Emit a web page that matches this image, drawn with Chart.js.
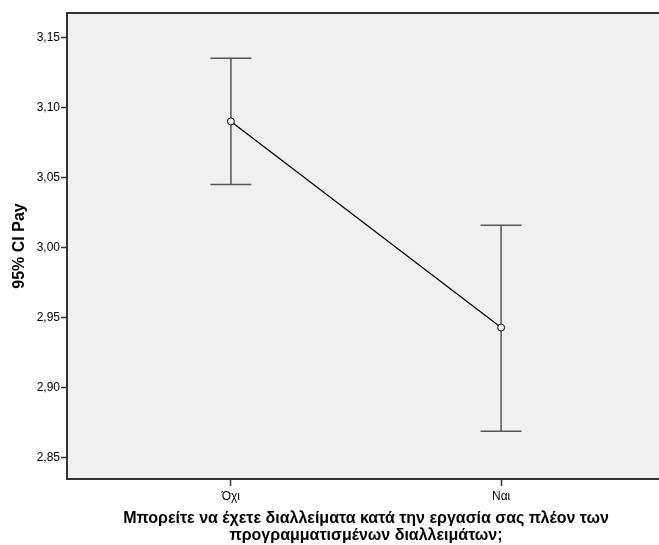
<!DOCTYPE html>
<html>
<head>
<meta charset="utf-8">
<script src="https://cdn.jsdelivr.net/npm/chart.js@4/dist/chart.umd.min.js"></script>
<style>
  html, body { margin: 0; padding: 0; background: #fff; overflow: hidden; }
  #wrap { width: 670px; height: 545px; }
</style>
</head>
<body>
<div id="wrap"><canvas id="chartCanvas" width="670" height="545"></canvas></div>
<script>
// error bar data
const categories = ["Όχι", "Ναι"];
const means = [3.090, 2.943];
const upper = [3.135, 3.016];
const lower = [3.045, 2.869];
const yTicks = [2.85, 2.90, 2.95, 3.00, 3.05, 3.10, 3.15];
const xTitle = ["Μπορείτε να έχετε διαλλείματα κατά την εργασία σας πλέον των", "προγραμματισμένων διαλλειμάτων;"];
const yTitle = "95% CI Pay";

const axisColor = "#333";
const plotBg = "#f0f0f0";

const plotFrame = {
  id: "plotFrame",
  beforeDraw(chart) {
    const a = chart.chartArea;
    const ctx = chart.ctx;
    ctx.save();
    ctx.fillStyle = plotBg;
    ctx.fillRect(a.left, a.top, a.right - a.left, a.bottom - a.top);
    ctx.restore();
  },
  afterDraw(chart) {
    const a = chart.chartArea;
    const ctx = chart.ctx;
    ctx.save();
    ctx.strokeStyle = axisColor;
    ctx.lineWidth = 2;
    ctx.beginPath();
    ctx.moveTo(a.left, a.top);
    ctx.lineTo(a.right, a.top);
    ctx.lineTo(a.right, a.bottom);
    ctx.stroke();
    ctx.restore();
  }
};

const errorBars = {
  id: "errorBars",
  beforeDatasetsDraw(chart) {
    const x = chart.scales.x, y = chart.scales.y;
    const ctx = chart.ctx;
    const cap = 20.5;
    ctx.save();
    ctx.strokeStyle = "#555";
    ctx.lineWidth = 1.5;
    categories.forEach((c, i) => {
      const px = x.getPixelForValue(i);
      const top = y.getPixelForValue(upper[i]);
      const bot = y.getPixelForValue(lower[i]);
      ctx.beginPath();
      ctx.moveTo(px, top);
      ctx.lineTo(px, bot);
      ctx.moveTo(px - cap, top);
      ctx.lineTo(px + cap, top);
      ctx.moveTo(px - cap, bot);
      ctx.lineTo(px + cap, bot);
      ctx.stroke();
    });
    ctx.restore();
  }
};

const ctx = document.getElementById("chartCanvas").getContext("2d");
const chart = new Chart(ctx, {
  type: "line",
  data: {
    datasets: [{
      data: categories.map((c, i) => ({ x: i, y: means[i] })),
      borderColor: "#000",
      borderWidth: 1.2,
      pointRadius: 3.5,
      pointBorderWidth: 1,
      pointBorderColor: "#000",
      pointBackgroundColor: plotBg,
      tension: 0
    }]
  },
  options: {
    responsive: false,
    animation: false,
    devicePixelRatio: 1,
    layout: { padding: { top: 13, left: 0, right: 0, bottom: 0 } },
    plugins: { legend: { display: false }, tooltip: { enabled: false } },
    scales: {
      x: {
        type: "linear",
        min: -0.6066,
        max: 1.6066,
        afterBuildTicks: s => { s.ticks = categories.map((c, i) => ({ value: i })); },
        afterFit: s => { s.height = 66; },
        ticks: {
          callback: v => categories[v],
          color: "#000",
          font: { family: "Liberation Sans, Arial", size: 12 },
          padding: 3,
          maxRotation: 0
        },
        grid: { drawOnChartArea: false, tickLength: 7, color: axisColor, tickWidth: 1.5 },
        border: { display: true, color: axisColor, width: 2 },
        title: {
          display: true,
          text: xTitle,
          color: "#000",
          font: { family: "Liberation Sans, Arial", size: 16, weight: "bold", lineHeight: 1.05 },
          padding: { top: 0, bottom: 0.8 }
        }
      },
      y: {
        min: 2.835,
        max: 3.1673,
        afterBuildTicks: s => { s.ticks = yTicks.map(v => ({ value: v })); },
        afterFit: s => { s.width = 67; },
        ticks: {
          callback: v => v.toFixed(2).replace(".", ","),
          color: "#000",
          font: { family: "Liberation Sans, Arial", size: 12 },
          padding: 1
        },
        grid: { drawOnChartArea: false, tickLength: 6, color: axisColor, tickWidth: 1.5 },
        border: { display: true, color: axisColor, width: 2 },
        title: {
          display: true,
          text: yTitle,
          color: "#000",
          font: { family: "Liberation Sans, Arial", size: 16, weight: "bold" },
          padding: { top: 10.4, bottom: 0 }
        }
      }
    }
  },
  plugins: [plotFrame, errorBars]
});
</script>
</body>
</html>
